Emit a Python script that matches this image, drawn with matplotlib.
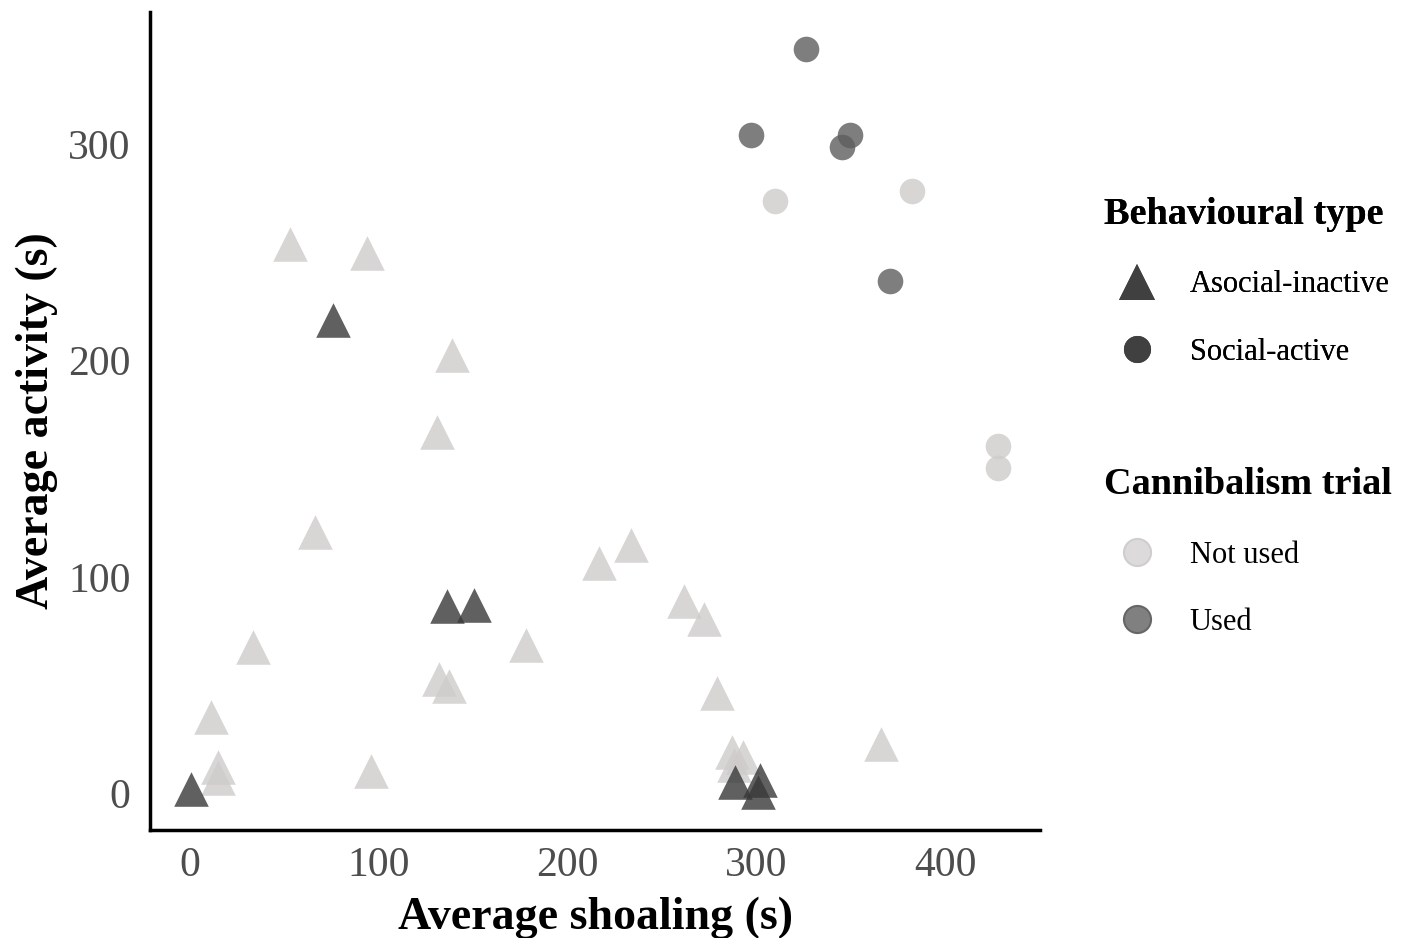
import matplotlib
matplotlib.use("Agg")
import matplotlib.pyplot as plt
from matplotlib.lines import Line2D

plt.rcParams['font.family'] = ['Liberation Serif', 'DejaVu Serif']

# Asocial-inactive (triangles), not used in cannibalism trial
tri_notused_x = [52.9, 93.7, 138.6, 130.7, 66.1, 33.3, 11.1, 14.8, 14.8, 95.8, 132.0, 137.0,
                 177.8, 216.4, 233.3, 261.4, 272.0, 278.8, 366.0, 286.8, 293.0, 288.0]
tri_notused_y = [254.0, 249.6, 202.5, 166.9, 120.7, 67.5, 35.1, 12.0, 7.0, 10.2, 52.7, 49.5,
                 68.4, 106.3, 114.7, 88.8, 80.4, 46.2, 22.7, 19.0, 16.6, 12.9]
# Asocial-inactive, used
tri_used_x = [0.5, 75.7, 136.0, 150.3, 288.4, 301.6, 301.0]
tri_used_y = [1.8, 218.7, 86.5, 86.9, 5.0, 6.0, 0.5]
# Social-active (circles), not used
cir_notused_x = [309.5, 382.5, 428.0, 428.0]
cir_notused_y = [273.7, 278.3, 160.4, 150.3]
# Social-active, used
cir_used_x = [325.9, 296.8, 349.2, 345.0, 370.4]
cir_used_y = [344.0, 304.2, 304.2, 298.7, 236.7]

x_ticks = [0, 100, 200, 300, 400]
y_ticks = [0, 100, 200, 300]

LIGHT = '#cfcbcb'
DARK_TRI = '#383838'
DARK_CIR = '#5e5e5e'

fig = plt.figure(figsize=(14.10, 9.38), dpi=100)
ax = fig.add_axes([150/1410, 108/938, 890/1410, 818/938])

ax.scatter(tri_notused_x, tri_notused_y, marker='^', s=620, color=LIGHT, alpha=0.8, linewidths=0)
ax.scatter(cir_notused_x, cir_notused_y, marker='o', s=340, color=LIGHT, alpha=0.8, linewidths=0)
ax.scatter(tri_used_x, tri_used_y, marker='^', s=620, color=DARK_TRI, alpha=0.8, linewidths=0)
ax.scatter(cir_used_x, cir_used_y, marker='o', s=340, color=DARK_CIR, alpha=0.8, linewidths=0)

ax.set_xlim(-21, 450)
ax.set_ylim(-17, 361)
ax.set_xticks(x_ticks)
ax.set_yticks(y_ticks)
ax.tick_params(length=0, labelsize=30, labelcolor='#4d4d4d', pad=14)
ax.tick_params(axis='x', pad=12)
for s in ['top', 'right']:
    ax.spines[s].set_visible(False)
for s in ['left', 'bottom']:
    ax.spines[s].set_linewidth(2.5)
    ax.spines[s].set_color('black')

ax.set_xlabel('Average shoaling (s)', fontsize=33, fontweight='bold', labelpad=8)
ax.set_ylabel('Average activity (s)', fontsize=33, fontweight='bold', labelpad=7)

common = dict(loc='upper left', frameon=False, fontsize=22,
              title_fontproperties={'weight': 'bold', 'size': 27.5},
              alignment='left', borderpad=0, handlelength=2.16, handletextpad=0.65,
              labelspacing=1.26, borderaxespad=0)

h1 = [Line2D([], [], marker='^', linestyle='none', markersize=26, color='#404040', markeredgewidth=0),
      Line2D([], [], marker='o', linestyle='none', markersize=19.5, color='#404040', markeredgewidth=0)]
leg1 = fig.legend(h1, ['Asocial-inactive', 'Social-active'], title='Behavioural type',
                  bbox_to_anchor=(1104/1410, 1 - 197/938), **common)
h2 = [Line2D([], [], marker='o', linestyle='none', markersize=19.5, markerfacecolor='#dcdada',
             markeredgecolor='#cfcdcd', markeredgewidth=1.5),
      Line2D([], [], marker='o', linestyle='none', markersize=19.5, markerfacecolor='#808080',
             markeredgecolor='#666666', markeredgewidth=1.5)]
leg2 = fig.legend(h2, ['Not used', 'Used'], title='Cannibalism trial',
                  bbox_to_anchor=(1104/1410, 1 - 467/938), **common)
fig.add_artist(leg1)

fig.savefig('out.png', dpi=100)
